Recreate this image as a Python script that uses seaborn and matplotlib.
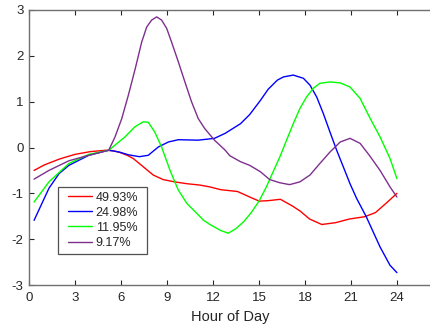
import numpy as np
import pandas as pd
import matplotlib
matplotlib.use("Agg")
import matplotlib.pyplot as plt
from matplotlib.lines import Line2D
from matplotlib.legend_handler import HandlerLine2D
import seaborn as sns

# Component curves over the day (hour, value)
red_hours = [0.33, 1, 2, 3, 4, 5, 5.5, 5.94, 6.4, 6.8, 7.45, 8.1, 8.75, 9.5, 10.3, 11.15,
             11.8, 12.5, 13.6, 14.6, 15.02, 15.6, 16.4, 17.2, 17.7, 18.3, 19.1, 20, 20.9,
             21.9, 22.6, 23.35, 24]
red_vals = [-0.50, -0.38, -0.25, -0.15, -0.09, -0.06, -0.07, -0.11, -0.17, -0.24, -0.42,
            -0.60, -0.70, -0.75, -0.79, -0.82, -0.86, -0.92, -0.96, -1.11, -1.17, -1.16,
            -1.13, -1.28, -1.39, -1.56, -1.68, -1.64, -1.56, -1.51, -1.42, -1.20, -1.00]

blue_hours = [0.33, 1.3, 1.96, 2.6, 3.9, 5.2, 5.9, 6.5, 7.2, 7.78, 8.43, 9.09, 9.74, 11.04,
              12.1, 12.8, 13.8, 14.4, 15.1, 15.6, 16.2, 16.6, 17.24, 17.9, 18.33, 18.77,
              19.2, 19.63, 20.07, 20.5, 20.94, 21.37, 22.0, 22.9, 23.55, 24]
blue_vals = [-1.59, -0.89, -0.57, -0.39, -0.17, -0.06, -0.10, -0.16, -0.20, -0.17, 0.01,
             0.12, 0.17, 0.16, 0.20, 0.31, 0.52, 0.72, 1.03, 1.27, 1.47, 1.54, 1.58, 1.51,
             1.36, 1.10, 0.74, 0.34, -0.06, -0.42, -0.79, -1.11, -1.51, -2.17, -2.57, -2.73]

green_hours = [0.33, 1.3, 2.6, 3.9, 5.2, 5.6, 6.26, 6.9, 7.45, 7.78, 8.2, 8.65, 9.2, 9.74,
               10.3, 11.4, 11.8, 12.5, 13.0, 13.5, 14.0, 14.5, 15.02, 15.5, 15.83, 16.37,
               16.8, 17.24, 17.67, 18.1, 18.54, 18.97, 19.63, 20.3, 20.94, 21.6, 22.2,
               22.9, 23.55, 24]
green_vals = [-1.19, -0.75, -0.35, -0.15, -0.06, 0.05, 0.23, 0.45, 0.56, 0.55, 0.34, 0.01,
              -0.50, -0.93, -1.22, -1.59, -1.68, -1.81, -1.87, -1.77, -1.62, -1.42, -1.16,
              -0.85, -0.60, -0.20, 0.16, 0.52, 0.85, 1.10, 1.29, 1.40, 1.43, 1.41, 1.32,
              1.07, 0.67, 0.23, -0.24, -0.68]

purple_hours = [0.33, 1.3, 2.6, 3.9, 5.2, 5.61, 6.05, 6.48, 6.93, 7.35, 7.68, 8.0, 8.33,
                8.65, 8.98, 9.3, 9.74, 10.17, 10.6, 11.04, 11.47, 12.1, 12.8, 13.1, 13.8,
                14.4, 15.1, 15.7, 16.37, 17.0, 17.67, 18.33, 18.97, 19.63, 20.3, 20.94,
                21.6, 22.2, 22.9, 23.55, 24]
purple_vals = [-0.69, -0.50, -0.29, -0.17, -0.06, 0.23, 0.63, 1.14, 1.72, 2.30, 2.63, 2.78,
               2.85, 2.78, 2.60, 2.30, 1.87, 1.43, 1.00, 0.63, 0.41, 0.16, -0.06, -0.18,
               -0.31, -0.39, -0.53, -0.70, -0.77, -0.81, -0.75, -0.60, -0.35, -0.10, 0.12,
               0.20, 0.09, -0.17, -0.50, -0.86, -1.08]

labels = ["49.93%", "24.98%", "11.95%", "9.17%"]
colors = ["#ff0000", "#0000ff", "#00ff00", "#7e2f8e"]
x_ticks = [0, 3, 6, 9, 12, 15, 18, 21, 24]
y_ticks = [-3, -2, -1, 0, 1, 2, 3]

frames = []
for lab, hrs, vals in zip(labels,
                          [red_hours, blue_hours, green_hours, purple_hours],
                          [red_vals, blue_vals, green_vals, purple_vals]):
    frames.append(pd.DataFrame({"hour": hrs, "value": vals, "series": lab}))
df = pd.concat(frames, ignore_index=True)

sns.set_theme(style="white")
plt.rcParams["font.family"] = ["Liberation Sans", "DejaVu Sans"]

W, H = 431, 329
fig = plt.figure(figsize=(W / 100, H / 100), dpi=100)
ax = fig.add_axes([29 / W, 1 - 285 / H, 402 / W, 275 / H])

sns.lineplot(data=df, x="hour", y="value", hue="series", hue_order=labels,
             palette=colors, estimator=None, sort=False, linewidth=1.0, ax=ax)

ax.set_xlim(0, 402 / 15.33)
ax.set_ylim(-3, 3)
ax.set_xticks(x_ticks)
ax.set_yticks(y_ticks)
ax.set_xticklabels([str(t) for t in x_ticks])
ax.set_yticklabels([str(t) for t in y_ticks])
ax.set_xlabel("Hour of Day", fontsize=10.5, color="#262626", labelpad=4)
ax.set_ylabel("")

edge = "#707070"
for side in ["left", "bottom", "top"]:
    ax.spines[side].set_visible(True)
    ax.spines[side].set_color(edge)
    ax.spines[side].set_linewidth(1.0)
ax.spines["right"].set_visible(False)

ax.tick_params(axis="both", which="major", direction="in", length=3.5, width=0.8,
               color="#262626", labelsize=9.5, labelcolor="#262626",
               top=True, bottom=True, left=True, right=False)
ax.tick_params(axis="x", pad=5)
ax.tick_params(axis="y", pad=4)

leg = ax.legend(loc="lower left", bbox_to_anchor=(0.072, 0.113, 0.2214, 0.2),
                mode="expand", borderaxespad=0, fontsize=9, frameon=True,
                fancybox=False, handlelength=2.3, handletextpad=0.32,
                labelspacing=0.25, borderpad=0.4,
                handler_map={Line2D: HandlerLine2D(xpad=0.4)})
leg.get_frame().set_edgecolor("#262626")
leg.get_frame().set_linewidth(0.9)
for t in leg.get_texts():
    t.set_color("#262626")

fig.savefig("out.png", dpi=100)
